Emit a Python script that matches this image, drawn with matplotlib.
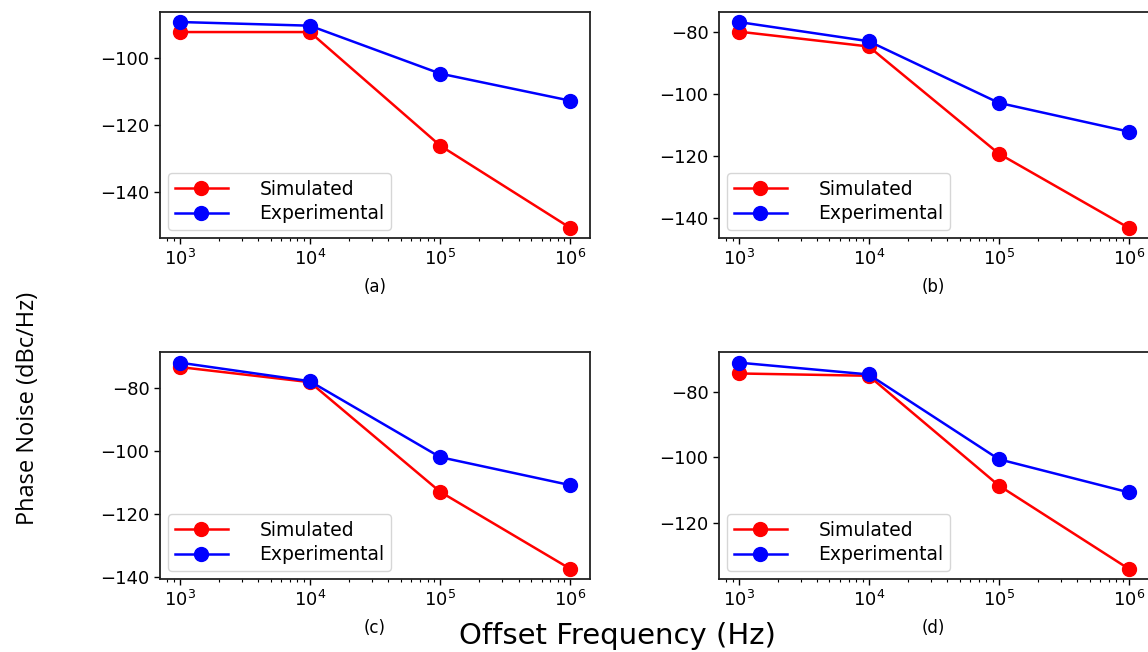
import matplotlib
matplotlib.use("Agg")
import matplotlib.pyplot as plt
from matplotlib.ticker import MultipleLocator

# Offset frequencies (Hz)
freq = [1e3, 1e4, 1e5, 1e6]

# Phase noise (dBc/Hz) for the four oscillators
sim_a = [-92.2, -92.2, -126.1, -150.7]
exp_a = [-89.2, -90.3, -104.6, -112.7]

sim_b = [-79.8, -84.6, -119.2, -143.2]
exp_b = [-76.7, -82.9, -102.8, -112.1]

sim_c = [-73.5, -78.3, -113.1, -137.6]
exp_c = [-72.1, -78.0, -102.1, -111.0]

sim_d = [-74.5, -75.2, -108.6, -134.0]
exp_d = [-71.2, -74.8, -100.6, -110.7]

panel_tags = ["(a)", "(b)", "(c)", "(d)"]
series = [(sim_a, exp_a), (sim_b, exp_b), (sim_c, exp_c), (sim_d, exp_d)]

W, H = 1148, 652
fig = plt.figure(figsize=(W / 100, H / 100), dpi=100)

# pixel boxes: (left, top, right, bottom)
boxes = [
    (160, 11.7, 590, 238.3),
    (719, 11.7, 1148.5, 238.3),
    (160, 352.3, 590, 579.3),
    (719, 352.3, 1148.5, 579.3),
]

for (sim, exp), tag, (l, t, r, b) in zip(series, panel_tags, boxes):
    ax = fig.add_axes([l / W, 1 - b / H, (r - l) / W, (b - t) / H])
    ax.plot(freq, sim, "-o", color="red", lw=1.8, ms=10, label="Simulated")
    ax.plot(freq, exp, "-o", color="blue", lw=1.8, ms=10, label="Experimental")
    ax.set_xscale("log")
    ax.yaxis.set_major_locator(MultipleLocator(20))
    ax.tick_params(labelsize=13, width=1.0, length=4)
    ax.tick_params(which="minor", width=0.8, length=2.5)
    for s in ax.spines.values():
        s.set_linewidth(1.3)
        s.set_color("#222222")
    ax.legend(loc="lower left", fontsize=13.5, handlelength=2.8,
              borderpad=0.35, labelspacing=0.3, handletextpad=1.7,
              borderaxespad=0.45)
    ax.text(0.5, -0.215, tag, transform=ax.transAxes, ha="center", va="center",
            fontsize=12)

fig.text(617 / W, 1 - 636 / H, "Offset Frequency (Hz)", ha="center", va="center",
         fontsize=21)
fig.text(28 / W, 1 - 408 / H, "Phase Noise (dBc/Hz)", ha="center", va="center",
         rotation=90, fontsize=17, family=["Open Sans", "DejaVu Sans"])

fig.savefig("out.png", dpi=100)
